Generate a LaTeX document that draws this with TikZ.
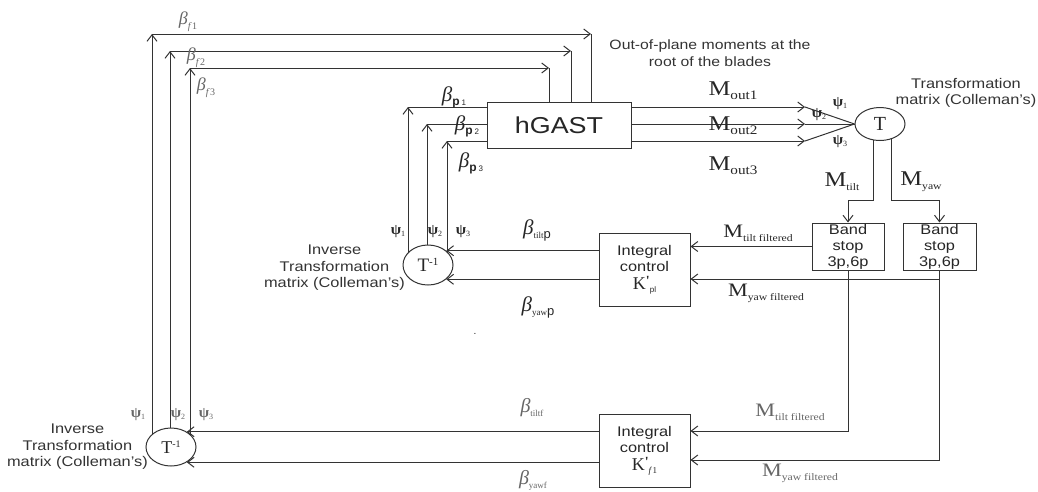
\documentclass[tikz,border=0pt]{standalone}
\usepackage{fontspec}
\setmainfont{Liberation Sans}
\newfontfamily\tnr{Liberation Serif}
\usepackage{graphicx}
\usetikzlibrary{arrows.meta,shapes.geometric,backgrounds}
\newcommand\wx[1]{\scalebox{1.17}[1]{#1}}
\newcommand\fs[1]{\fontsize{#1}{#1}\selectfont}
\newcommand\bet[1]{{\tnr\itshape\fs{#1}β}}
\newcommand\psil[1]{{\tnr\bfseries\fs{15}ψ}\raisebox{-2pt}{\tnr\fs{8}#1}}
\newcommand\Mlab[3]{\wx{{\tnr\fs{#1}M}\raisebox{-4pt}{\tnr\fs{#2}#3}}}
\begin{document}
\begin{tikzpicture}[x=1pt,y=-1pt,
  ln/.style={line width=1pt,draw=black!80},
  arr/.style={ln,-{Straight Barb[length=6.5pt,width=10pt,line width=1pt]}},
  blk/.style={draw=black!80,line width=1pt,fill=white,rectangle,inner sep=0pt,align=center,text=black!85,font=\fontsize{14}{16}\selectfont},
  ell/.style={draw=black!80,line width=1pt,fill=white,ellipse,inner sep=0pt,text=black!85},
  lab/.style={inner sep=0pt,text=black!85},
  glab/.style={inner sep=0pt,text=black!60},
  txt/.style={inner sep=0pt,text=black!80,align=center,font=\fontsize{14}{16.5}\selectfont},
]
\useasboundingbox (0,0) rectangle (1038,491);

% ---------- blocks ----------
\node[blk, minimum width=144pt, minimum height=46pt] (hg) at (559,125) {\wx{\fs{23}hGAST}};
\node[ell, minimum width=50pt, minimum height=33pt] (T) at (880,124) {\tnr\fs{20}T};
\node[blk, minimum width=72pt, minimum height=47pt] (bs1) at (848,246.5) {\wx{Band}\\\wx{stop}\\\wx{3p,6p}};
\node[blk, minimum width=73pt, minimum height=47pt] (bs2) at (939.5,246.5) {\wx{Band}\\\wx{stop}\\\wx{3p,6p}};
\node[blk, minimum width=91pt, minimum height=73pt] (ic1) at (644.5,269.5)
  {\wx{Integral}\\\wx{control}\\[2pt]{\tnr\fs{18}K}\raisebox{4pt}{\tnr\bfseries\fs{14}'}\raisebox{-3pt}{\fs{8}pl}};
\node[blk, minimum width=91pt, minimum height=73pt] (ic2) at (644.5,450.5)
  {\wx{Integral}\\\wx{control}\\[2pt]{\tnr\fs{18}K}\raisebox{4pt}{\tnr\bfseries\fs{14}'}\raisebox{-3pt}{\tnr\itshape\fs{9}f\,\upshape 1}};
\node[ell, minimum width=50pt, minimum height=40pt] (ti1) at (428,265) {{\tnr\fs{19}T}\raisebox{6pt}{\tnr\fs{11}-1}};
\node[ell, minimum width=50pt, minimum height=38pt] (ti2) at (171,447) {{\tnr\fs{18}T}\raisebox{6pt}{\tnr\fs{10}-1}};

% ---------- corner coordinates ----------
\coordinate (f1c) at (152,34);  \coordinate (f1r) at (591,34);
\coordinate (f2c) at (170,51);  \coordinate (f2r) at (571,51);
\coordinate (f3c) at (190,68);  \coordinate (f3r) at (549,68);
\coordinate (p1c) at (408,107); \coordinate (p2c) at (427,124); \coordinate (p3c) at (447,141);
\coordinate (m1) at (805,107);  \coordinate (m2) at (805,124);  \coordinate (m3) at (805,141);
\coordinate (tl) at (873,200);  \coordinate (tr) at (891,200);
\coordinate (yw1) at (939.5,279);
\coordinate (tf2) at (848,431);  \coordinate (yf2) at (939.5,460);

% ---------- connectors ----------
\begin{scope}[on background layer]
  % fixed-frame feedback
  \draw[arr] (ti2.center -| f1c) -- (f1c);
  \draw[arr] (f1c) -- (f1r);
  \draw[ln] (f1r) -- (f1r |- hg.north);
  \draw[arr] (ti2.center -| f2c) -- (f2c);
  \draw[arr] (f2c) -- (f2r);
  \draw[ln] (f2r) -- (f2r |- hg.north);
  \draw[arr] (ti2.center -| f3c) -- (f3c);
  \draw[arr] (f3c) -- (f3r);
  \draw[ln] (f3r) -- (f3r |- hg.north);
  % pitch feedback
  \draw[arr] (ti1.center -| p1c) -- (p1c);
  \draw[ln] (p1c) -- (p1c -| hg.west);
  \draw[arr] (ti1.center -| p2c) -- (p2c);
  \draw[ln] (p2c) -- (p2c -| hg.west);
  \draw[arr] (ti1.center -| p3c) -- (p3c);
  \draw[ln] (p3c) -- (p3c -| hg.west);
  % moments out
  \draw[arr] (m1 -| hg.east) -- (m1);
  \draw[ln] (m1) -- (T.west);
  \draw[arr] (m2 -| hg.east) -- (m2);
  \draw[ln] (m2) -- (T.west);
  \draw[arr] (m3 -| hg.east) -- (m3);
  \draw[ln] (m3) -- (T.west);
  % T to band stops
  \draw[arr] (T.center -| tl) -- (tl) -| (bs1.north);
  \draw[arr] (T.center -| tr) -- (tr) -| (bs2.north);
  % band stops to integral control 1
  \draw[arr] (bs1.west) -- (bs1.west -| ic1.east);
  \draw[arr] (bs2.south) -- (yw1) -- (yw1 -| ic1.east);
  % integral 1 to inverse T
  \draw[arr] (ic1.west |- ti1.38) -- (ti1.38);
  \draw[arr] (ic1.west |- ti1.-38) -- (ti1.-38);
  % band stops to integral control 2
  \draw[arr] (bs1.south) -- (tf2) -- (tf2 -| ic2.east);
  \draw[arr] (bs2.south) -- (yf2) -- (yf2 -| ic2.east);
  % integral 2 to inverse T
  \draw[arr] (ic2.west |- ti2.44) -- (ti2.44);
  \draw[arr] (ic2.west |- ti2.-44) -- (ti2.-44);
\end{scope}

% ---------- labels ----------
\node[glab] (lbf1) at (188,22) {\bet{18}\raisebox{-5pt}{\tnr\itshape\fs{10}f\,\upshape 1}};
\node[glab] (lbf2) at (196,58) {\bet{18}\raisebox{-5pt}{\tnr\itshape\fs{10}f\,\upshape 2}};
\node[glab] (lbf3) at (206,88) {\bet{18}\raisebox{-5pt}{\tnr\itshape\fs{10}f\,\upshape 3}};
\node[lab] (lbp1) at (454,97) {\bet{21}\raisebox{-4pt}{\fs{12}\textbf{p}\,\fs{8}1}};
\node[lab] (lbp2) at (467,126) {\bet{21}\raisebox{-4pt}{\fs{12}\textbf{p}\,\fs{8}2}};
\node[lab] (lbp3) at (471,163) {\bet{21}\raisebox{-4pt}{\fs{12}\textbf{p}\,\fs{8}3}};

\node[txt] (oop) at (710,53) {\wx{\fontsize{13.5}{16.5}\selectfont Out-of-plane moments at the}\\\wx{\fontsize{13.5}{16.5}\selectfont root of the blades}};
\node[txt] (tm) at (966,93) {\wx{Transformation}\\\wx{matrix (Colleman's)}};
\node[txt, anchor=east] (itm1) at (405,268) {\wx{Inverse}\\\wx{Transformation}\\\wx{matrix (Colleman's)}};
\node[txt, anchor=east] (itm2) at (148,447) {\wx{Inverse}\\\wx{Transformation}\\\wx{matrix (Colleman's)}};

\node[lab] (lmo1) at (733,91) {\Mlab{21}{13}{out1}};
\node[lab] (lmo2) at (733,126) {\Mlab{21}{13}{out2}};
\node[lab] (lmo3) at (733,166) {\Mlab{21}{13}{out3}};

\node[lab] (ps1) at (840,104) {\psil{1}};
\node[lab] (ps2) at (819,115) {\psil{2}};
\node[lab] (ps3) at (840,142) {\psil{3}};

\node[lab] (lmt) at (842,182) {\Mlab{21}{10}{tilt}};
\node[lab] (lmy) at (921,182) {\Mlab{21}{10}{yaw}};

\node[lab] (lmtf1) at (758,233) {\Mlab{19}{10}{tilt filtered}};
\node[lab] (lmyf1) at (766,293) {\Mlab{19}{10}{yaw filtered}};
\node[glab] (lmtf2) at (790,412) {\Mlab{19}{10}{tilt filtered}};
\node[glab] (lmyf2) at (800,473) {\Mlab{19}{10}{yaw filtered}};

\node[lab] (btp) at (537,230) {\bet{21}\raisebox{-4pt}{{\tnr\fs{9}tilt}{\fs{13}p}}};
\node[lab] (byp) at (538,307) {\bet{21}\raisebox{-4pt}{{\tnr\fs{9}yaw}{\fs{13}p}}};
\node[glab] (btf) at (532,408) {\bet{20}\raisebox{-4pt}{\tnr\fs{9}tiltf}};
\node[glab] (byf) at (533,480) {\bet{20}\raisebox{-4pt}{\tnr\fs{9}yawf}};

\node[lab] (q11) at (398,232) {\psil{1}};
\node[lab] (q12) at (435,232) {\psil{2}};
\node[lab] (q13) at (463,232) {\psil{3}};
\node[glab] (q21) at (138,415) {\psil{1}};
\node[glab] (q22) at (178,415) {\psil{2}};
\node[glab] (q23) at (206,415) {\psil{3}};

\node[lab] (dot) at (475,334) {.};
\end{tikzpicture}
\end{document}
